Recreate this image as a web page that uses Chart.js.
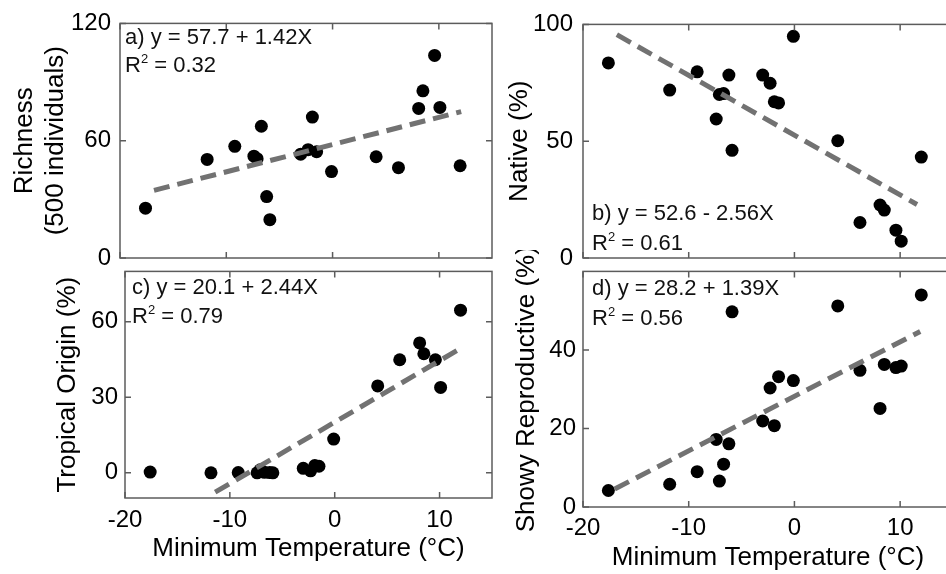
<!DOCTYPE html>
<html>
<head>
<meta charset="utf-8">
<script src="https://cdn.jsdelivr.net/npm/chart.js@4/dist/chart.umd.min.js"></script>
<style>
body { margin:0; width:946px; height:574px; overflow:hidden; background:#fff; position:relative; font-family:'Liberation Sans', Arial, sans-serif; }
canvas { position:absolute; }
.eq { position:absolute; font-size:22px; line-height:24px; color:#111; white-space:nowrap; z-index:5; }
.eq sup { font-size:13px; line-height:0; vertical-align:9px; }
</style>
</head>
<body>
<canvas id="pa" style="left:0;top:0" width="500" height="300"></canvas>
<canvas id="pb" style="left:495px;top:0" width="480" height="300"></canvas>
<canvas id="pc" style="left:0;top:250px" width="500" height="324"></canvas>
<canvas id="pd" style="left:495px;top:250px" width="480" height="324"></canvas>

<div class="eq" style="left:125px;top:25px">a) y = 57.7 + 1.42X</div>
<div class="eq" style="left:125px;top:53px">R<sup>2</sup> = 0.32</div>
<div class="eq" style="left:592px;top:201px">b) y = 52.6 - 2.56X</div>
<div class="eq" style="left:592px;top:231px">R<sup>2</sup> = 0.61</div>
<div class="eq" style="left:132px;top:275px">c) y = 20.1 + 2.44X</div>
<div class="eq" style="left:132px;top:304px">R<sup>2</sup> = 0.79</div>
<div class="eq" style="left:592px;top:276px">d) y = 28.2 + 1.39X</div>
<div class="eq" style="left:592px;top:306px">R<sup>2</sup> = 0.56</div>

<script>
// site minimum temperatures (same sites in every panel)
const minTemp = [-17.6, -11.8, -9.2, -7.4, -7.1, -6.7, -6.2, -5.9, -3.0, -2.3, -1.9, -1.5, -0.1, 4.1, 6.2, 8.1, 8.5, 9.6, 10.1, 12.0];

const richness = [25.5, 50.4, 57.1, 52.1, 50.8, 67.4, 31.4, 19.6, 53.1, 55.4, 72.1, 54.4, 44.2, 51.8, 46.2, 76.5, 85.5, 103.6, 77.0, 47.2];
const native = [83.5, 71.9, 79.7, 59.5, 70.0, 70.4, 78.3, 46.1, 78.3, 74.8, 66.9, 66.4, 94.9, 50.2, 15.2, 22.7, 20.5, 11.9, 7.2, 43.2];
const tropical = [0.3, 0, 0.1, 0, 1.2, 0.2, 0.1, 0, 1.8, 0.8, 2.9, 2.6, 13.4, 34.5, 44.9, 51.6, 47.3, 44.9, 33.9, 64.6];
const showy = [4.2, 5.8, 9.0, 17.2, 6.6, 10.9, 16.1, 49.7, 21.9, 30.3, 20.7, 33.2, 32.2, 51.2, 34.8, 25.1, 36.3, 35.5, 35.9, 54.0];

// fitted line end points
const fitXa = [-16.8, 12.1], fitYa = [34.6, 74.9];
const fitXb = [-16.8, 11.6], fitYb = [95.6, 22.9];
const fitXc = [-11.4, 12.2], fitYc = [-7.7, 49.9];
const fitXd = [-17.0, 11.9], fitYd = [4.6, 44.7];

const xTicks = [-20, -10, 0, 10];
const yTicksA = [0, 60, 120];
const yTicksB = [0, 50, 100];
const yTicksC = [0, 30, 60];
const yTicksD = [0, 20, 40];

const FONT = "'Liberation Sans', Arial, sans-serif";

// matlab style box with inward ticks
const frame = {
  id: 'frame',
  afterDraw(chart) {
    const {ctx, chartArea: a, scales: {x, y}} = chart;
    ctx.save();
    ctx.strokeStyle = '#5c5c5c';
    ctx.lineWidth = 1.5;
    ctx.strokeRect(a.left, a.top, a.width, a.height);
    ctx.beginPath();
    x.ticks.forEach(t => {
      const px = x.getPixelForValue(t.value);
      ctx.moveTo(px, a.bottom); ctx.lineTo(px, a.bottom - 6);
      ctx.moveTo(px, a.top); ctx.lineTo(px, a.top + 6);
    });
    y.ticks.forEach(t => {
      const py = y.getPixelForValue(t.value);
      ctx.moveTo(a.left, py); ctx.lineTo(a.left + 6, py);
      ctx.moveTo(a.right, py); ctx.lineTo(a.right - 6, py);
    });
    ctx.stroke();
    ctx.restore();
  }
};

function makePanel(id, o) {
  new Chart(document.getElementById(id), {
    type: 'scatter',
    data: {
      datasets: [
        {
          data: o.fitX.map((v, i) => ({x: v, y: o.fitY[i]})),
          showLine: true, borderColor: '#727272', borderWidth: 5, borderDash: [16, 8],
          pointRadius: 0, fill: false
        },
        {
          data: minTemp.map((v, i) => ({x: v, y: o.ys[i]})),
          pointRadius: 6.5, pointBackgroundColor: '#000', pointBorderWidth: 0
        }
      ]
    },
    options: {
      responsive: false,
      animation: false,
      layout: {padding: o.pad},
      plugins: {legend: {display: false}, tooltip: {enabled: false}},
      scales: {
        x: {
          type: 'linear', min: -20, max: 15,
          afterBuildTicks: s => { s.ticks = xTicks.map(v => ({value: v})); },
          afterFit: s => { s.height = o.xh; },
          grid: {display: false, drawTicks: false},
          border: {display: false},
          ticks: {display: o.xLabels, padding: o.xtPad, color: '#000', font: {family: FONT, size: 24}},
          title: {display: o.xLabels, text: 'Minimum Temperature (°C)', color: '#000',
                  font: {family: FONT, size: 26}, padding: {top: 0, bottom: o.xTitlePad}}
        },
        y: {
          type: 'linear', min: o.yMin, max: o.yMax,
          afterBuildTicks: s => { s.ticks = o.yTicks.map(v => ({value: v})); },
          afterFit: s => { s.width = o.yw; },
          grid: {display: false, drawTicks: false},
          border: {display: false},
          ticks: {padding: o.ytPad, color: '#000', font: {family: FONT, size: 24}},
          title: {display: true, text: o.yTitle, color: '#000',
                  font: {family: FONT, size: 26}, padding: {top: o.yTitlePad, bottom: 0}}
        }
      }
    },
    plugins: [frame]
  });
}

makePanel('pa', {ys: richness, fitX: fitXa, fitY: fitYa, yMin: 0, yMax: 120, yTicks: yTicksA,
  pad: {left: 0, top: 17, right: 8, bottom: 0}, yw: 120, xh: 42, xLabels: false,
  ytPad: 9, yTitle: ['Richness', '(500 individuals)'], yTitlePad: 9});

makePanel('pb', {ys: native, fitX: fitXb, fitY: fitYb, yMin: 0, yMax: 100, yTicks: yTicksB,
  pad: {left: 0, top: 17, right: 22, bottom: 0}, yw: 88, xh: 42, xLabels: false,
  ytPad: 10, yTitle: 'Native (%)', yTitlePad: 9});

makePanel('pc', {ys: tropical, fitX: fitXc, fitY: fitYc, yMin: -10, yMax: 80, yTicks: yTicksC,
  pad: {left: 0, top: 18, right: 8, bottom: 0}, yw: 125, xh: 76, xLabels: true,
  xtPad: 8, xTitlePad: 10, ytPad: 7, yTitle: 'Tropical Origin (%)', yTitlePad: 52});

makePanel('pd', {ys: showy, fitX: fitXd, fitY: fitYd, yMin: 0, yMax: 60, yTicks: yTicksD,
  pad: {left: 0, top: 18, right: 22, bottom: 0}, yw: 88, xh: 67, xLabels: true,
  xtPad: 7, xTitlePad: 1, ytPad: 7, yTitle: 'Showy Reproductive (%)', yTitlePad: 16});
</script>
</body>
</html>
